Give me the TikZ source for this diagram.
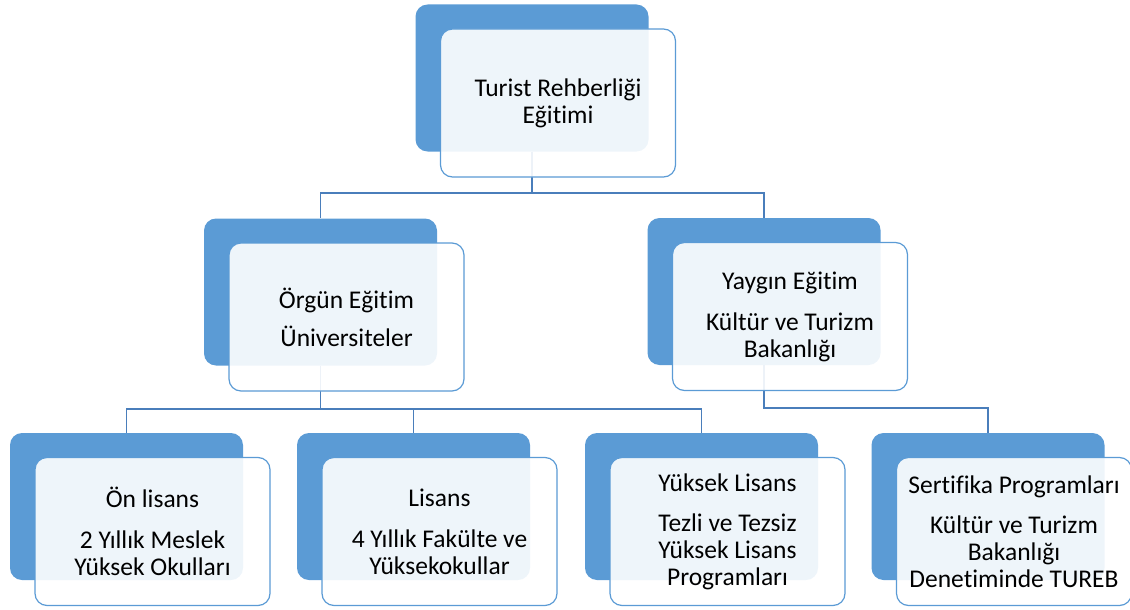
\documentclass[tikz,border=0pt]{standalone}
\usepackage{fontspec}
\setmainfont{Carlito}[Ligatures={NoCommon}]
\usetikzlibrary{positioning, backgrounds}
\definecolor{accent}{HTML}{5B9BD5}
\definecolor{linkblue}{HTML}{4A7EBB}

\begin{document}
\begin{tikzpicture}[
  x=1pt, y=-1pt,
  front/.style={draw=accent, line width=1.2pt, rounded corners=12pt, fill=white, fill opacity=0.9, text opacity=1, text=black, align=center, minimum width=235pt, minimum height=148pt, font=\fontsize{25.5}{27}\selectfont},
  back/.style={fill=accent, rounded corners=12pt, minimum width=233pt, minimum height=147pt},
  link/.style={draw=linkblue, line width=1.8pt},
]
\useasboundingbox (0,0) rectangle (1130,610);

% Front boxes
\node[front] (top)       at (558,103)    {Turist Rehberliği\\Eğitimi};
\node[front] (orgun)     at (346.5,317)  {Örgün Eğitim\\[11pt]Üniversiteler};
\node[front] (yaygin)    at (790,316.5)  {Yaygın Eğitim\\[14pt]Kültür ve Turizm\\Bakanlığı};
\node[front] (onlisans)  at (152.5,531.5) {Ön lisans\\[14pt]2 Yıllık Meslek\\Yüksek Okulları};
\node[front] (lisans)    at (439.5,531.5) {Lisans\\[14pt]4 Yıllık Fakülte ve\\Yüksekokullar};
\node[front] (ylisans)   at (727.5,531.5) {Yüksek Lisans\\[13pt]Tezli ve Tezsiz\\Yüksek Lisans\\Programları};
\node[front] (sertifika) at (1014,531.5)  {Sertifika Programları\\[13pt]Kültür ve Turizm\\Bakanlığı\\Denetiminde TUREB};

\begin{scope}[on background layer]
% Back boxes
\node[back] (top-b)       at ([shift={(-26,-25)}]top.center) {};
\node[back] (orgun-b)     at ([shift={(-26,-25)}]orgun.center) {};
\node[back] (yaygin-b)    at ([shift={(-26,-25)}]yaygin.center) {};
\node[back] (onlisans-b)  at ([shift={(-26,-25)}]onlisans.center) {};
\node[back] (lisans-b)    at ([shift={(-26,-25)}]lisans.center) {};
\node[back] (ylisans-b)   at ([shift={(-26,-25)}]ylisans.center) {};
\node[back] (sertifika-b) at ([shift={(-26,-25)}]sertifika.center) {};

% Links
\draw[link] (top-b.south) -- ++(0,41) -| (orgun-b.north);
\draw[link] (top-b.south) -- ++(0,41) -| (yaygin-b.north);
\draw[link] (orgun-b.south) -- ++(0,43) -| (onlisans-b.north);
\draw[link] (orgun-b.south) -- ++(0,43) -| (lisans-b.north);
\draw[link] (orgun-b.south) -- ++(0,43) -| (ylisans-b.north);
\draw[link] (yaygin-b.south) -- ++(0,43) -| (sertifika-b.north);
\end{scope}

\end{tikzpicture}
\end{document}
